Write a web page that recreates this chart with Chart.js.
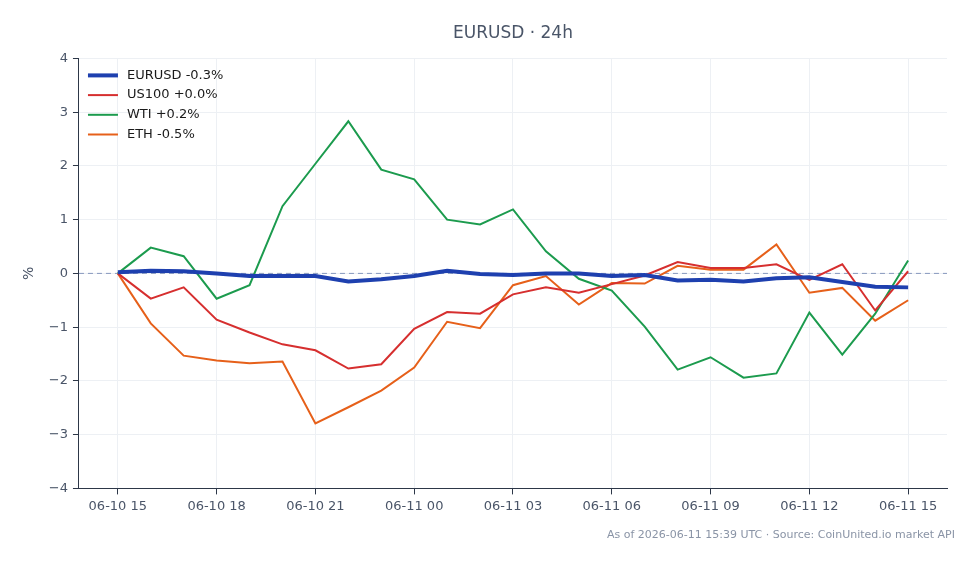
<!DOCTYPE html>
<html>
<head>
<meta charset="utf-8">
<script src="https://cdn.jsdelivr.net/npm/chart.js@4"></script>
<style>
  html, body { margin: 0; padding: 0; background: #fff; }
  #wrap { width: 979px; height: 564px; }
</style>
</head>
<body>
<div id="wrap"><canvas id="chart" width="979" height="564"></canvas></div>
<script>
// hours since 06-10 15:00 UTC, one point per hour
const hours = Array.from({ length: 25 }, (_, i) => i);
const tickLabels = ['06-10 15', '06-10 18', '06-10 21', '06-11 00', '06-11 03', '06-11 06', '06-11 09', '06-11 12', '06-11 15'];

const eurusd = [0.02, 0.05, 0.04, 0.0, -0.05, -0.05, -0.05, -0.15, -0.11, -0.05, 0.05, -0.01, -0.03, 0.0, 0.0, -0.05, -0.03, -0.13, -0.12, -0.15, -0.09, -0.07, -0.16, -0.25, -0.26];
const us100  = [0.0, -0.47, -0.26, -0.86, -1.1, -1.32, -1.43, -1.77, -1.69, -1.03, -0.72, -0.75, -0.39, -0.26, -0.36, -0.2, -0.04, 0.21, 0.1, 0.1, 0.17, -0.12, 0.17, -0.69, 0.04];
const wti    = [0.0, 0.48, 0.32, -0.47, -0.22, 1.25, 2.04, 2.83, 1.93, 1.75, 1.0, 0.91, 1.19, 0.41, -0.1, -0.32, -0.99, -1.79, -1.56, -1.94, -1.86, -0.73, -1.51, -0.75, 0.24];
const eth    = [0.0, -0.93, -1.53, -1.62, -1.67, -1.64, -2.79, -2.49, -2.18, -1.75, -0.9, -1.02, -0.22, -0.05, -0.58, -0.18, -0.19, 0.14, 0.07, 0.07, 0.54, -0.36, -0.27, -0.88, -0.5];

const seriesNames = ['EURUSD -0.3%', 'US100 +0.0%', 'WTI +0.2%', 'ETH -0.5%'];
const footerText = 'As of 2026-06-11 15:39 UTC \u00b7 Source: CoinUnited.io market API';

const toPoints = vals => vals.map((v, i) => ({ x: hours[i], y: v }));

const FONT = "'DejaVu Sans', sans-serif";
const TEXT = '#4a5568';

// dashed zero line, inline legend and footer
const extras = {
  id: 'extras',
  beforeDatasetsDraw(chart) {
    const { ctx, chartArea, scales } = chart;
    const y0 = scales.y.getPixelForValue(0);
    ctx.save();
    ctx.strokeStyle = '#8797bd';
    ctx.lineWidth = 1;
    ctx.setLineDash([5, 4]);
    ctx.beginPath();
    ctx.moveTo(chartArea.left, y0);
    ctx.lineTo(chartArea.right, y0);
    ctx.stroke();
    ctx.restore();
  },
  afterDraw(chart) {
    const { ctx, chartArea } = chart;
    ctx.save();
    ctx.font = '13px ' + FONT;
    ctx.textBaseline = 'middle';
    chart.data.datasets.forEach((ds, i) => {
      const y = chartArea.top + 17 + i * 19.7;
      ctx.strokeStyle = ds.borderColor;
      ctx.lineWidth = ds.borderWidth;
      ctx.setLineDash([]);
      ctx.beginPath();
      ctx.moveTo(chartArea.left + 9, y);
      ctx.lineTo(chartArea.left + 39, y);
      ctx.stroke();
      ctx.fillStyle = '#1a1a1a';
      ctx.textAlign = 'left';
      ctx.fillText(ds.label, chartArea.left + 48, y);
    });
    ctx.font = '11px ' + FONT;
    ctx.fillStyle = '#8a94a6';
    ctx.textAlign = 'right';
    ctx.fillText(footerText, 955, 535);
    ctx.restore();
  }
};

new Chart(document.getElementById('chart').getContext('2d'), {
  type: 'line',
  data: {
    datasets: [
      { label: seriesNames[0], data: toPoints(eurusd), borderColor: '#1e40af', borderWidth: 4 },
      { label: seriesNames[1], data: toPoints(us100), borderColor: '#d62f2f', borderWidth: 2 },
      { label: seriesNames[2], data: toPoints(wti), borderColor: '#1c9b4e', borderWidth: 2 },
      { label: seriesNames[3], data: toPoints(eth), borderColor: '#e6601a', borderWidth: 2 }
    ]
  },
  options: {
    responsive: false,
    animation: false,
    elements: { point: { radius: 0 }, line: { tension: 0 } },
    layout: { padding: { left: 17, right: 32, top: 8, bottom: 46 } },
    plugins: {
      legend: { display: false },
      tooltip: { enabled: false },
      title: {
        display: true,
        text: 'EURUSD \u00b7 24h',
        fullSize: false,
        color: TEXT,
        font: { family: FONT, size: 17, weight: 'normal' },
        padding: { top: 15, bottom: 15 }
      }
    },
    scales: {
      x: {
        type: 'linear',
        min: -1.18,
        max: 25.18,
        afterBuildTicks: axis => { axis.ticks = tickLabels.map((_, i) => ({ value: i * 3 })); },
        ticks: {
          callback: v => tickLabels[Math.round(v / 3)],
          color: TEXT,
          font: { family: FONT, size: 13 },
          padding: 4,
          maxRotation: 0
        },
        grid: { color: '#edf0f4', tickColor: '#2d3748', tickLength: 6 },
        border: { color: '#2d3748', width: 1 }
      },
      y: {
        min: -4,
        max: 4,
        ticks: {
          stepSize: 1,
          callback: v => (v < 0 ? '\u2212' + Math.abs(v) : String(v)),
          color: TEXT,
          font: { family: FONT, size: 13 },
          padding: 5
        },
        grid: { color: '#edf0f4', tickColor: '#2d3748', tickLength: 6 },
        border: { color: '#2d3748', width: 1 },
        title: {
          display: true,
          text: '%',
          color: TEXT,
          font: { family: FONT, size: 14 },
          padding: { bottom: 6 }
        }
      }
    }
  },
  plugins: [extras]
});
</script>
</body>
</html>
